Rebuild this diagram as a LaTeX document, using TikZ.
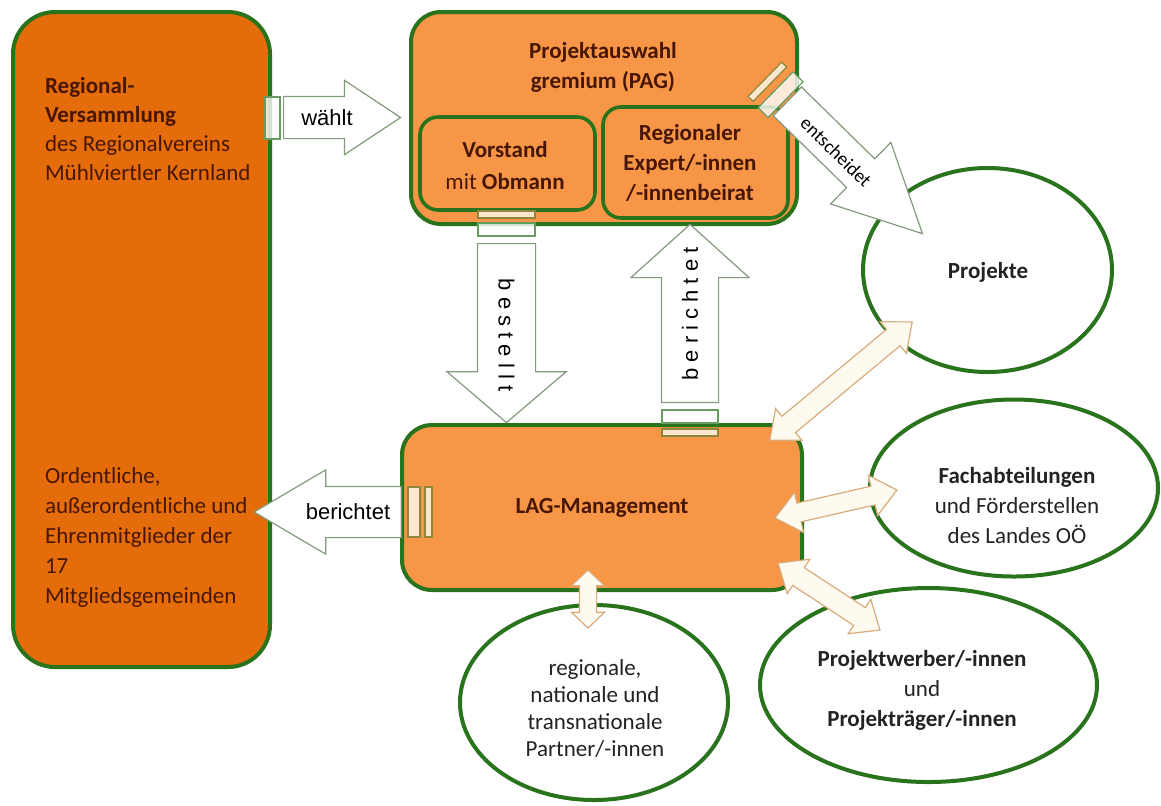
\documentclass[tikz,border=0pt]{standalone}
\usepackage{fontspec}
\setmainfont{Carlito}
\newfontfamily\arialfont{Liberation Sans}
\usetikzlibrary{shapes.geometric,shapes.arrows,positioning}
\definecolor{darkorg}{RGB}{228,108,10}
\definecolor{lightorg}{RGB}{247,150,70}
\definecolor{boxgreen}{RGB}{40,115,28}
\definecolor{txtbrown}{RGB}{72,22,4}
\definecolor{blobtxt}{RGB}{35,35,35}
\definecolor{pfeilline}{RGB}{130,155,125}
\definecolor{cream}{RGB}{255,250,240}
\definecolor{tanline}{RGB}{215,172,125}
\definecolor{olive}{RGB}{140,135,60}
\tikzset{
    %Define style for boxes
    bigbox/.style={
           rectangle,
           rounded corners=21pt,
           draw=boxgreen, line width=2pt,
           fill=darkorg,
           inner sep=0pt},
    orgbox/.style={
           rectangle,
           rounded corners=15pt,
           draw=boxgreen, line width=2pt,
           fill=lightorg,
           inner sep=0pt},
    innerbox/.style={
           orgbox,
           rounded corners=9pt,
           line width=1.8pt},
    blob/.style={
           ellipse,
           draw=boxgreen, line width=2pt,
           fill=white,
           inner sep=0pt},
    boxtext/.style={
           font=\fontsize{11.5}{14.5}\selectfont,
           text=txtbrown,
           align=center},
    blobtext/.style={
           font=\fontsize{11.5}{15}\selectfont,
           text=blobtxt,
           align=center},
    % Define arrow styles
    pfeil/.style={
           single arrow,
           draw=pfeilline, line width=0.6pt,
           fill=white,
           inner xsep=1pt, inner ysep=0pt,
           single arrow head indent=0pt},
    pfeiltext/.style={
           font=\arialfont\fontsize{11}{13}\selectfont,
           inner sep=0pt},
    doppelpfeil/.style={
           double arrow,
           draw=tanline, line width=0.6pt,
           fill=cream,
           inner sep=0pt,
           double arrow head indent=0pt,
           double arrow tip angle=80},
    leiste/.style={
           draw=boxgreen!70!white, line width=0.6pt,
           fill=white, fill opacity=0.8}
}
\begin{document}
\begin{tikzpicture}[x=0.5pt,y=-0.5pt]
\useasboundingbox[fill=white] (0,0) rectangle (1161,805);
 %boxes
\node[bigbox, minimum width=128.5pt, minimum height=327.5pt] (rv) at (141.5,339.5) {};
\node[orgbox, minimum width=193pt, minimum height=106pt] (pag) at (604,118) {};
\node[innerbox, minimum width=87.5pt, minimum height=46.5pt] (vorst) at (507.5,163.5) {};
\node[innerbox, minimum width=92.5pt, minimum height=55.5pt] (beirat) at (695.5,162.5) {};
\node[orgbox, minimum width=200pt, minimum height=82.5pt] (lag) at (602,507.5) {};
 %ellipses
\node[blob, minimum width=124.5pt, minimum height=102pt] (proj) at (987.5,270) {};
\node[blob, minimum width=144pt, minimum height=88.5pt] (fach) at (1014,488) {};
\node[blob, minimum width=168.5pt, minimum height=97pt] (werber) at (928.5,685) {};
\node[blob, minimum width=134pt, minimum height=97.5pt] (partner) at (594,702.5) {};
 %block arrows
\node[pfeil, minimum height=58.5pt, text height=10.25pt, text depth=10.25pt, single arrow head extend=8pt,
  single arrow tip angle=67, anchor=tail] (waehlt) at (283,117.5) {};
\node[pfeil, minimum height=73.5pt, text height=12.5pt, text depth=12.5pt, single arrow head extend=8.25pt,
  single arrow tip angle=61, shape border rotate=180, anchor=tip] (berl) at (253,512) {};
\node[pfeil, minimum height=89.5pt, text height=14.25pt, text depth=14.25pt, single arrow head extend=15.25pt,
  single arrow tip angle=99, rotate=-90, anchor=tail] (bestellt) at (506.5,243) {};
\node[pfeil, minimum height=89pt, text height=14pt, text depth=14pt, single arrow head extend=15.25pt,
  single arrow tip angle=96, rotate=90, anchor=tail] (berup) at (690,403) {};
\node[pfeil, minimum height=94.5pt, text height=9.75pt, text depth=9.75pt, single arrow head extend=11.5pt,
  single arrow tip angle=53, rotate=-44.4, anchor=tail] (entsch) at (787,101) {};
\node[doppelpfeil, minimum height=92.5pt, text height=5pt, text depth=5pt, double arrow head extend=5pt,
  rotate=39.7] (lagproj) at (841,381) {};
\node[doppelpfeil, minimum height=62.5pt, text height=4.5pt, text depth=4.5pt, double arrow head extend=5.5pt,
  rotate=12.9] (lagfach) at (836,504) {};
\node[doppelpfeil, minimum height=61pt, text height=5pt, text depth=5pt, double arrow head extend=5pt,
  rotate=-33.3] (lagwerber) at (829,596.5) {};
\node[doppelpfeil, minimum height=29pt, text height=4pt, text depth=4pt, double arrow head extend=4pt,
  double arrow tip angle=93, rotate=90] (lagpartner) at (588,599) {};
 %bars at the arrow ends
\draw[leiste] (265,97) rectangle (280,139);
\draw[leiste, draw=olive, fill=cream] (408,487) rectangle (420,537);
\draw[leiste, draw=olive, fill=cream] (425,487) rectangle (432,537);
\draw[leiste, draw=olive, fill=cream] (478,211) rectangle (535,218);
\draw[leiste] (478,223) rectangle (535,236);
\draw[leiste] (662,410) rectangle (718,423);
\draw[leiste, draw=olive, fill=cream] (662,429) rectangle (718,436);
\begin{scope}[shift={(787,101)}, rotate=-44.4]
\draw[leiste, draw=olive, fill=cream] (-31,-24) rectangle (-24,24);
\draw[leiste] (-16,-25) rectangle (-2,25);
\end{scope}
 %arrow labels
\node[pfeiltext] (waehlttxt) at (327,117.5) {w\"ahlt};
\node[pfeiltext] (berltxt) at (348,512) {berichtet};
\node[pfeiltext, rotate=-90] (bestellttxt) at (506.5,335) {b e s t e l l t};
\node[pfeiltext, rotate=90] (beruptxt) at (690,314) {b e r i c h t e t};
\node[font=\fontsize{9.5}{11}\selectfont, rotate=-44.4] (entschtxt) at (836,152) {entscheidet};
 %texts
\node[boxtext, align=left, anchor=west] (rvtxt) at (38,129)
  {\textbf{Regional-}\\\textbf{Versammlung}\\des Regionalvereins\\M\"uhlviertler Kernland};
\node[boxtext, align=left, anchor=west, font=\fontsize{11.5}{15}\selectfont] (mitgl) at (38,537)
  {Ordentliche,\\au\ss erordentliche und\\Ehrenmitglieder der\\17\\Mitgliedsgemeinden};
\node[boxtext, font=\bfseries\fontsize{11.5}{15}\selectfont] (pagtxt) at (603,67)
  {Projektauswahl\\gremium (PAG)};
\node[boxtext, font=\fontsize{11.5}{16}\selectfont] (vorsttxt) at (505,166)
  {\textbf{Vorstand}\\mit \textbf{Obmann}};
\node[boxtext, font=\bfseries\fontsize{11.5}{15}\selectfont] (beirattxt) at (690,163)
  {Regionaler\\Expert/-innen\\/-innenbeirat};
\node[boxtext, font=\bfseries\fontsize{11.5}{14}\selectfont] (lagtxt) at (602,508) {LAG-Management};
\node[blobtext, font=\bfseries\fontsize{11.5}{15}\selectfont] (projtxt) at (988,272) {Projekte};
\node[blobtext] (fachtxt) at (1017,505)
  {\textbf{Fachabteilungen}\\und F\"orderstellen\\des Landes O\"O};
\node[blobtext] (werbertxt) at (922,690)
  {\textbf{Projektwerber/-innen}\\und\\\textbf{Projektr\"ager/-innen}};
\node[blobtext, font=\fontsize{11.5}{13.5}\selectfont] (partnertxt) at (595,708)
  {regionale,\\nationale und\\transnationale\\Partner/-innen};
\end{tikzpicture}
\end{document}
